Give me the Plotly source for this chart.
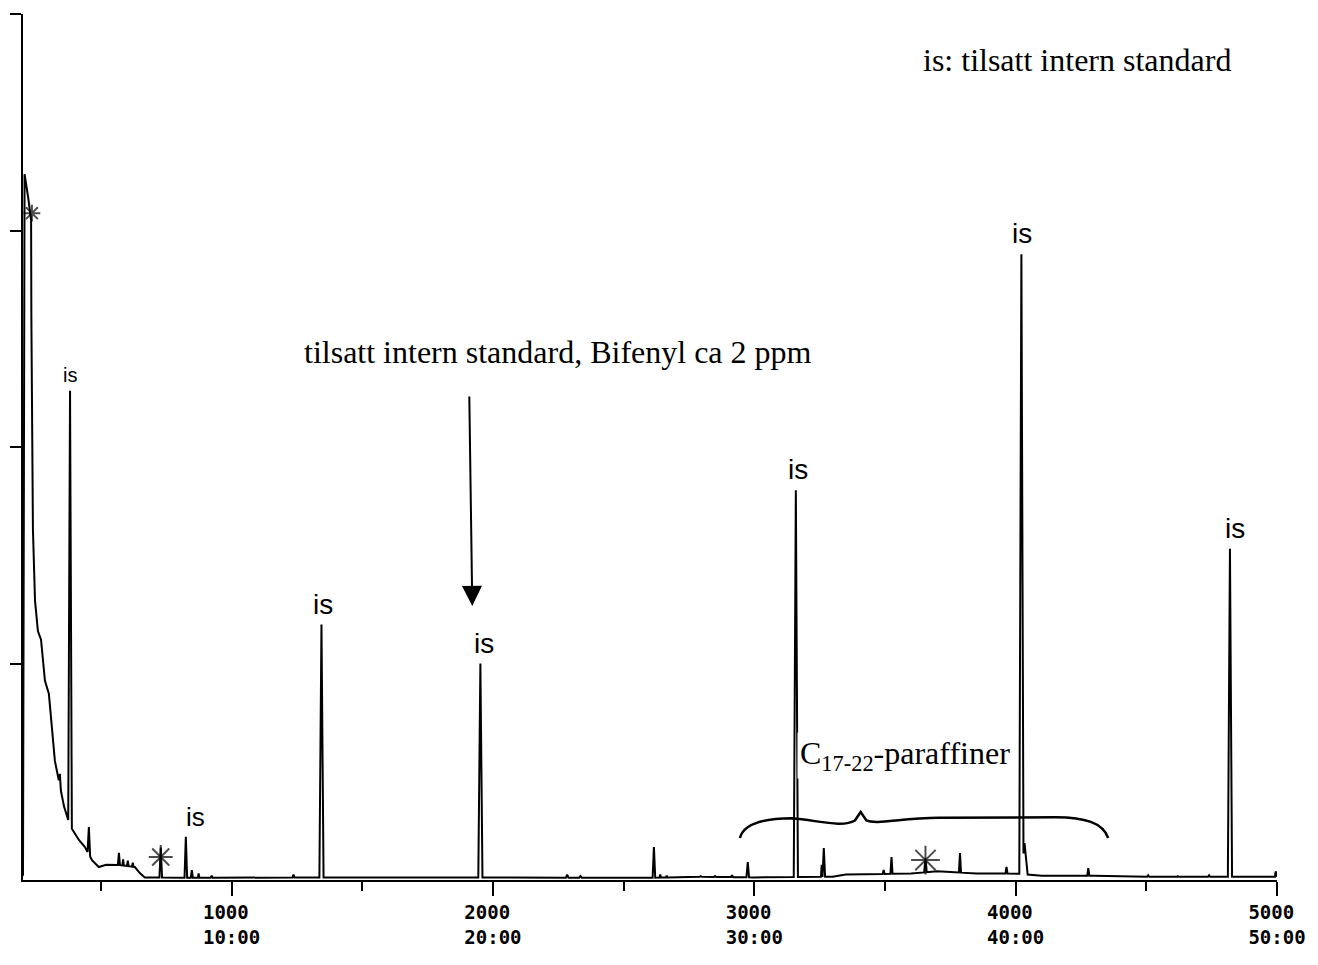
import numpy as np
import plotly.graph_objects as go

# Background of the chromatogram: solvent front, its tail and the baseline (scan no., signal)
bg_scan = [202, 208, 222, 233, 234, 236, 240, 248, 259, 271, 286, 301, 324, 359, 382,
           416, 439, 466, 492, 520, 560, 600, 630, 649, 668, 900, 1300, 1900, 2600,
           2800, 3000, 3300, 3350, 3600, 3700, 3850, 4000, 4100, 4300, 4500, 5000]
bg_level = [0.02, 3.26, 3.15, 3.05, 2.60, 2.05, 1.62, 1.29, 1.15, 1.11, 0.92, 0.86, 0.55, 0.34, 0.25,
            0.185, 0.152, 0.092, 0.06, 0.07, 0.07, 0.065, 0.06, 0.032, 0.012, 0.01, 0.012, 0.012, 0.01,
            0.015, 0.012, 0.015, 0.025, 0.03, 0.04, 0.03, 0.03, 0.02, 0.02, 0.015, 0.015]

# Resolved peaks: apex scan, apex signal, half width at the base (scans)
peak_scan = [343, 382, 454, 569, 585, 603, 622, 729, 825, 848, 874, 924, 1237, 1344, 1952,
             2284, 2335, 2616, 2640, 2665, 2795, 2850, 2915, 2975, 3159, 3258, 3266, 3495,
             3525, 3655, 3787, 3965, 4022, 4034, 4278, 4507, 4620, 4740, 4820, 4995]
peak_apex = [0.49, 2.26, 0.245, 0.125, 0.095, 0.09, 0.08, 0.15, 0.20, 0.046, 0.03, 0.02, 0.025, 1.18, 1.00,
             0.025, 0.018, 0.152, 0.025, 0.02, 0.018, 0.018, 0.022, 0.083, 1.80, 0.07, 0.148, 0.046,
             0.106, 0.10, 0.125, 0.06, 2.89, 0.17, 0.055, 0.022, 0.018, 0.022, 1.53, 0.04]
peak_halfwidth = [4, 7, 5, 4, 3, 3, 3, 5, 5, 4, 3, 4, 4, 8, 8,
                  5, 5, 5, 3, 3, 4, 4, 4, 5, 8, 3, 5, 4,
                  4, 5, 4, 4, 8, 12, 4, 4, 4, 4, 8, 3]

# Internal standard peaks labelled "is" (scan, label size, x shift in px)
is_scan = [382, 825, 1344, 1952, 3159, 4022, 4820]
is_size = [20, 26, 28, 28, 28, 28, 28]
is_shift = [0, 10, 2, 4, 2, 1, 5]

# Peaks flagged with a hand-drawn asterisk (scan, signal, mark size)
flag_scan = [236, 729, 3655]
flag_level = [3.08, 0.106, 0.092]
flag_size = [14, 20, 24]

# Axis ticks
tick_scan = [1000, 2000, 3000, 4000, 5000]
tick_time = ["10:00", "20:00", "30:00", "40:00", "50:00"]

# Build the trace: background polyline plus triangular peaks on top of it
bx = np.array(bg_scan, float)
by = np.array(bg_level, float)
pc = np.array(peak_scan, float)
pa = np.array(peak_apex, float)
pw = np.array(peak_halfwidth, float)
xs = set(bg_scan)
for c, w in zip(pc, pw):
    xs.update([c - w, c, c + w])
xs = np.array(sorted(xs))
ys = np.interp(xs, bx, by)
amp = pa - np.interp(pc, bx, by)
for c, a, w in zip(pc, amp, pw):
    ys = ys + a * np.clip(1 - np.abs(xs - c) / w, 0, None)

fig = go.Figure()
fig.add_trace(go.Scatter(x=xs, y=ys, mode="lines",
                         line=dict(color="black", width=2), hoverinfo="skip"))
fig.add_trace(go.Scatter(x=flag_scan, y=flag_level, mode="markers",
                         marker=dict(symbol="asterisk-open", size=flag_size, color="black",
                                     line=dict(color="black", width=2)),
                         hoverinfo="skip"))

# "is" labels above the internal standard peaks
annotations = []
for s, fs, dx in zip(is_scan, is_size, is_shift):
    h = peak_apex[peak_scan.index(s)]
    annotations.append(dict(x=s, y=h, xref="x", yref="y", text="is", showarrow=False,
                            yanchor="bottom", xshift=dx, yshift=3,
                            font=dict(family="Liberation Sans", size=fs, color="black")))

serif = dict(family="Liberation Serif", size=32, color="black")
annotations += [
    dict(x=0.7158, y=0.947, xref="paper", yref="paper", xanchor="left", yanchor="middle",
         text="is: tilsatt intern standard", showarrow=False, font=serif),
    dict(x=0.2221, y=0.6097, xref="paper", yref="paper", xanchor="left", yanchor="middle",
         text="tilsatt intern standard, Bifenyl ca 2 ppm", showarrow=False, font=serif),
    dict(x=0.6170, y=0.1443, xref="paper", yref="paper", xanchor="left", yanchor="middle",
         text="C<sub>17-22</sub>-paraffiner", showarrow=False, font=serif,
         bgcolor="white", borderpad=2),
    # arrow pointing at the biphenyl peak
    dict(x=1921, y=1.266, xref="x", yref="y", text="", showarrow=True,
         ax=-3, ay=-211, arrowhead=2, arrowsize=2.0, arrowwidth=2, arrowcolor="black"),
]

# Curly brace spanning the C17-22 paraffins
b0, b1, tip, lev, end = 2945, 4354, 3407, 0.285, 0.194
brace = (f"M {b0},{end} C {b0+15},{lev-0.02} {b0+100},{lev} {b0+200},{lev} "
         f"C {b0+300},{lev-0.01} {tip-70},{lev-0.045} {tip-22},{lev-0.01} "
         f"L {tip},{lev+0.029} L {tip+22},{lev-0.01} "
         f"C {tip+60},{lev-0.03} {tip+150},{lev} {tip+300},{lev+0.002} "
         f"L {b1-200},{lev+0.005} C {b1-90},{lev+0.004} {b1-20},{lev-0.02} {b1},{end}")
shapes = [dict(type="path", xref="x", yref="y", path=brace,
               line=dict(color="black", width=2.5))]

fig.update_layout(
    width=1318, height=965,
    margin=dict(l=21, r=41, t=14, b=85),
    paper_bgcolor="white", plot_bgcolor="white",
    showlegend=False,
    annotations=annotations, shapes=shapes,
    xaxis=dict(range=[202, 5000], showgrid=False, zeroline=False,
               showline=True, linecolor="black", linewidth=2,
               tickvals=tick_scan,
               ticktext=[f"{v}\u00a0<br>{t}" for v, t in zip(tick_scan, tick_time)],
               ticks="outside", ticklen=14, tickwidth=2, tickcolor="black",
               tickfont=dict(family="DejaVu Sans Mono", size=19, color="black", weight="bold"),
               minor=dict(dtick=500, tick0=0, ticks="outside", ticklen=9,
                          tickwidth=2, tickcolor="black", showgrid=False)),
    yaxis=dict(range=[0, 4], showgrid=False, zeroline=False,
               showline=True, linecolor="black", linewidth=2,
               tickvals=[1, 2, 3, 4], ticks="outside", ticklen=11, tickwidth=2,
               tickcolor="black", showticklabels=False),
)

fig.write_html("out.html")
